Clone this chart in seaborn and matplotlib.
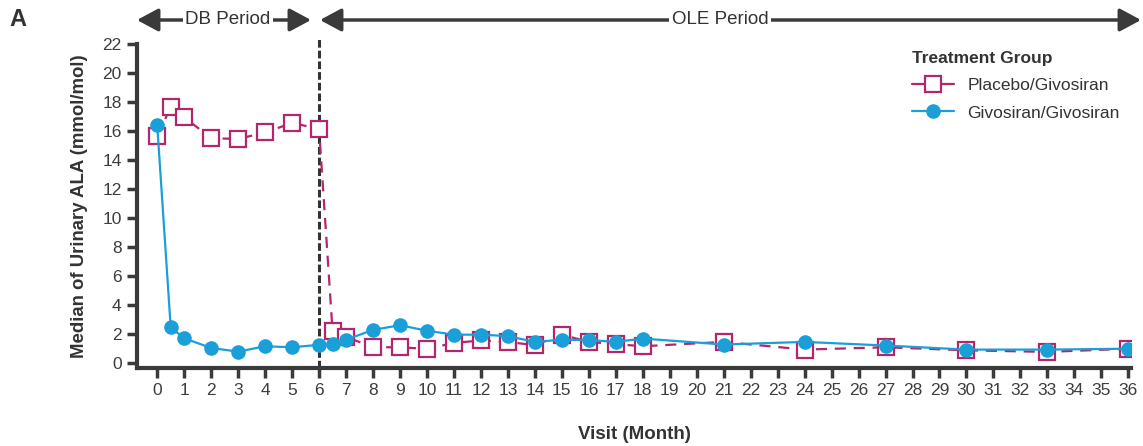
import matplotlib
matplotlib.use("Agg")
import matplotlib.pyplot as plt
import seaborn as sns
import pandas as pd
from matplotlib.lines import Line2D

# ---- data ----
placebo_month = [0, 0.5, 1, 2, 3, 4, 5, 6, 6.5, 7, 8, 9, 10, 11, 12, 13, 14, 15, 16, 17, 18, 21, 24, 27, 30, 33, 36]
placebo_value = [15.65, 17.65, 16.95, 15.5, 15.45, 15.9, 16.55, 16.15, 2.2, 1.8, 1.08, 1.08, 0.97, 1.38, 1.55, 1.45, 1.22, 1.95, 1.45, 1.3, 1.15, 1.45, 0.92, 1.08, 0.87, 0.76, 0.98]
givo_month = [0, 0.5, 1, 2, 3, 4, 5, 6, 6.5, 7, 8, 9, 10, 11, 12, 13, 14, 15, 16, 17, 18, 21, 24, 27, 30, 33, 36]
givo_value = [16.4, 2.45, 1.7, 1.03, 0.78, 1.15, 1.08, 1.25, 1.28, 1.6, 2.28, 2.6, 2.22, 1.95, 1.95, 1.85, 1.45, 1.6, 1.58, 1.45, 1.68, 1.27, 1.45, 1.2, 0.92, 0.92, 0.98]
series_names = ["Placebo/Givosiran", "Givosiran/Givosiran"]
x_ticks = list(range(0, 37))
y_ticks = list(range(0, 23, 2))

MAGENTA = "#B3266B"
BLUE = "#1A9FD9"
DARK = "#3a3a3a"

sns.set_theme(style="white")
plt.rcParams["font.family"] = ["Liberation Sans", "DejaVu Sans"]

fig = plt.figure(figsize=(11.43, 4.46), dpi=100)
ax = fig.add_axes([137/1143, 1-368/446, (1131-137)/1143, (368-44)/446])

df_p = pd.DataFrame({"month": placebo_month, "value": placebo_value})
df_g = pd.DataFrame({"month": givo_month, "value": givo_value})

sns.lineplot(data=df_p, x="month", y="value", ax=ax, color=MAGENTA, lw=1.6,
             marker="s", markersize=12, markerfacecolor="white", markeredgecolor=MAGENTA,
             markeredgewidth=1.6, dashes=False, linestyle=(0, (5, 3.5)), zorder=3)
sns.lineplot(data=df_g, x="month", y="value", ax=ax, color=BLUE, lw=1.6,
             marker="o", markersize=10.5, markerfacecolor=BLUE, markeredgecolor=BLUE,
             markeredgewidth=0, zorder=4)

ax.set_xlim(-0.75, 36.1)
ax.set_ylim(-0.35, 22)
ax.set_xticks(x_ticks)
ax.set_yticks(y_ticks)
ax.tick_params(axis="both", direction="out", length=7, width=2.5, color=DARK,
               labelsize=12.5, labelcolor="#3d3d3d", pad=4,
               bottom=True, left=True)
for s in ["top", "right"]:
    ax.spines[s].set_visible(False)
for s in ["left", "bottom"]:
    ax.spines[s].set_linewidth(3)
    ax.spines[s].set_color(DARK)

ax.set_xlabel("Visit (Month)", fontsize=13.5, fontweight="bold", color="#333333", labelpad=20)
ax.set_ylabel("Median of Urinary ALA (mmol/mol)", fontsize=13.4, fontweight="bold", color="#333333", labelpad=10)

# vertical dashed separator
ax.axvline(6, ymin=0, ymax=1.019, color="#333333", lw=2.2, linestyle=(0, (2.5, 1)), clip_on=False, zorder=2)

# legend
handles = [
    Line2D([], [], color=MAGENTA, lw=1.6, marker="s", markersize=12, markerfacecolor="white",
           markeredgecolor=MAGENTA, markeredgewidth=1.6),
    Line2D([], [], color=BLUE, lw=1.6, marker="o", markersize=10.5, markerfacecolor=BLUE,
           markeredgewidth=0),
]
leg = fig.legend(handles, series_names, title="Treatment Group", loc="upper left",
                 bbox_to_anchor=(905/1143, 1-44/446), frameon=False, fontsize=12.5,
                 title_fontproperties={"weight": "bold", "size": 12.5},
                 handlelength=2.4, labelspacing=0.7, borderaxespad=0)
leg._legend_box.align = "left"
for t in leg.get_texts():
    t.set_color("#333333")
leg.get_title().set_color("#333333")

# period arrows
def period(x0, x1, label, xc):
    y = 1 - 20/446
    fig.add_artist(matplotlib.patches.FancyArrowPatch(
        (x0/1143, y), (x1/1143, y), transform=fig.transFigure,
        arrowstyle="<|-|>,head_length=13,head_width=7", color=DARK, lw=2.5,
        mutation_scale=1, shrinkA=0, shrinkB=0))
    fig.text(xc/1143, y, label, ha="center", va="center", fontsize=13.5, color="#333333",
             bbox=dict(facecolor="white", edgecolor="none", pad=2))

period(137, 311, "DB Period", 228)
period(320, 1141, "OLE Period", 720)

fig.text(9/1143, 1-19/446, "A", fontsize=17, fontweight="bold", color="#333333", va="center", ha="left")

fig.savefig("out.png", dpi=100)
